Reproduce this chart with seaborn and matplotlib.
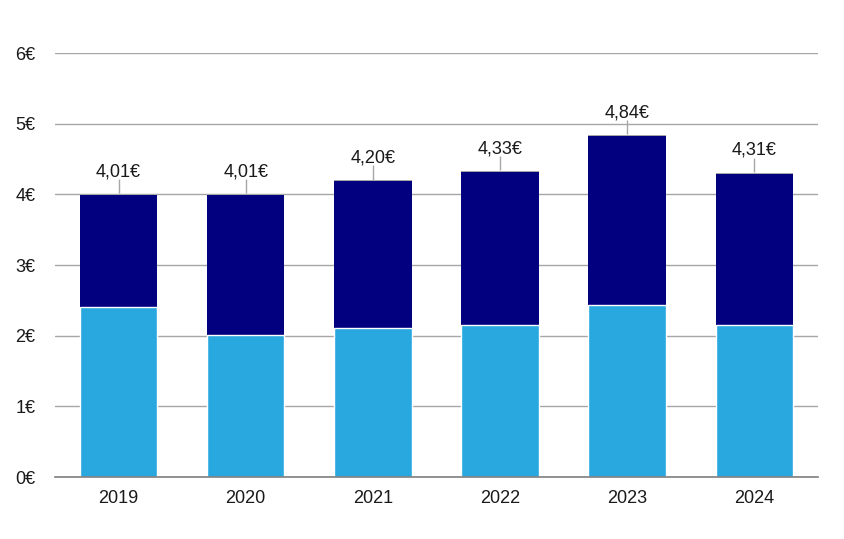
import pandas as pd
import matplotlib
matplotlib.use("Agg")
import matplotlib.pyplot as plt
import seaborn as sns

years   = ["2019", "2020", "2021", "2022", "2023", "2024"]
lower   = [2.41, 2.01, 2.11, 2.15, 2.43, 2.15]
upper   = [1.585, 1.985, 2.075, 2.165, 2.395, 2.145]
totals  = [4.01, 4.01, 4.20, 4.33, 4.84, 4.31]
labels  = ["4,01€", "4,01€", "4,20€", "4,33€", "4,84€", "4,31€"]

df = pd.DataFrame({"year": years, "lower": lower, "upper": upper, "total": totals})
df["stack"] = df["lower"] + df["upper"]

sns.set_style("white")
plt.rcParams["font.family"] = ["Liberation Sans", "DejaVu Sans"]

fig = plt.figure(figsize=(8.45, 5.39), dpi=100)
ax = fig.add_axes([0.065, 0.115, 0.903, 0.787])

# layered bars: total (grey cap), then dark segment, then light base
sns.barplot(data=df, x="year", y="total", color="#a6a6a6", width=0.61,
            saturation=1, linewidth=0, ax=ax)
sns.barplot(data=df, x="year", y="stack", color="#03007f", width=0.61,
            saturation=1, linewidth=0, ax=ax)
sns.barplot(data=df, x="year", y="lower", color="#29a8e0", width=0.61,
            saturation=1, edgecolor="white", linewidth=1, ax=ax)

for i, (t, lab) in enumerate(zip(totals, labels)):
    ax.vlines(i, t + 0.01, t + 0.21, color="#a6a6a6", lw=1, zorder=3)
    ax.text(i, t + 0.25, lab, ha="center", va="baseline", fontsize=13, color="#1a1a1a")

ax.set_xlim(-0.5, 5.5)
ax.set_ylim(0, 6.005)
ax.set_yticks(range(7))
ax.set_yticklabels([f"{v}€" for v in range(7)])
ax.yaxis.grid(True, color="#a6a6a6", lw=1)
ax.set_axisbelow(True)
ax.set_xlabel("")
ax.set_ylabel("")
for s in ["top", "right", "left"]:
    ax.spines[s].set_visible(False)
ax.spines["bottom"].set_color("#7f7f7f")
ax.spines["bottom"].set_linewidth(1.2)
ax.tick_params(axis="y", length=0, pad=14, labelsize=13, labelcolor="#1a1a1a")
ax.tick_params(axis="x", length=0, pad=9, labelsize=13, labelcolor="#1a1a1a")

plt.savefig("out.png", dpi=100)
plt.close()
